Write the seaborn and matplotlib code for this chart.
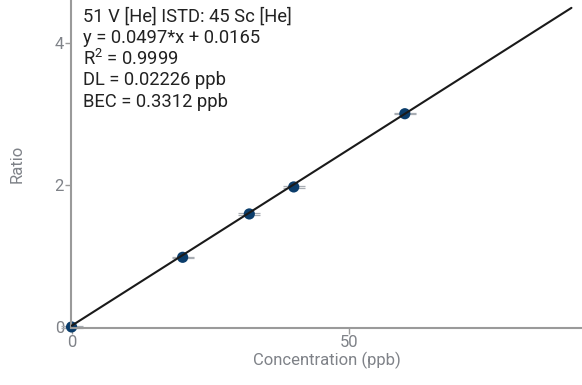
import matplotlib
matplotlib.use("Agg")
import matplotlib.pyplot as plt
import seaborn as sns
import numpy as np
import pandas as pd

# Data
conc = [0, 20, 32, 40, 60]
ratio = [0.0, 0.98, 1.59, 1.97, 3.0]
slope = 0.0497
intercept = 0.0165
fit_x = [0, 90]
x_ticks = [0, 50]
y_ticks = [0, 2, 4]
info_lines = [
    "51 V [He] ISTD: 45 Sc [He]",
    "y = 0.0497*x + 0.0165",
    "R$^{2}$ = 0.9999",
    "DL = 0.02226 ppb",
    "BEC = 0.3312 ppb",
]

sns.set_style("white")
plt.rcParams['font.family'] = ['Roboto', 'DejaVu Sans']
plt.rcParams['mathtext.fontset'] = 'custom'
plt.rcParams['mathtext.rm'] = 'Roboto'
plt.rcParams['mathtext.it'] = 'Roboto'
plt.rcParams['mathtext.default'] = 'regular'

fig = plt.figure(figsize=(5.82, 3.85), dpi=100)
ax = fig.add_axes([0.122, 0.148, 0.878, 0.852])

pts = pd.DataFrame({"Concentration": conc, "Ratio": ratio})
fit = pd.DataFrame({"Concentration": fit_x,
                    "Ratio": [slope * v + intercept for v in fit_x]})

# grey horizontal bars through points
for off in (0.008, -0.008):
    ax.plot(pts["Concentration"], pts["Ratio"] + off, ls="none", marker="_",
            markersize=16, markeredgewidth=0.9, color="#a8adb3", zorder=1,
            clip_on=False)
sns.lineplot(data=fit, x="Concentration", y="Ratio", color="#1a1a1a",
             linewidth=1.5, ax=ax, zorder=3)
sns.scatterplot(data=pts, x="Concentration", y="Ratio", color="#0b3d6b",
                s=65, edgecolor="none", ax=ax, zorder=2, clip_on=False)

ax.set_xlim(-0.1, 91.9)
ax.set_ylim(-0.015, 4.6)
ax.set_xticks(x_ticks)
ax.set_yticks(y_ticks)

for side in ["top", "right"]:
    ax.spines[side].set_visible(False)
for side in ["left", "bottom"]:
    ax.spines[side].set_color("#9a9a9a")
    ax.spines[side].set_linewidth(1.5)

ax.tick_params(axis="both", colors="#9a9a9a", labelcolor="#7f8288",
               labelsize=12, length=4, width=1, pad=1, direction="out")
ax.tick_params(axis="both", which="both", left=True, bottom=True)
ax.set_xlabel("Concentration (ppb)", color="#7f8288", fontsize=12, labelpad=1)
ax.set_ylabel("Ratio", color="#7f8288", fontsize=12, labelpad=22)

ys = [17, 38, 59, 80, 102]
for line, yp in zip(info_lines, ys):
    fig.text(83 / 582, 1 - yp / 385, line,
             ha="left", va="center", fontsize=13.2, color="#222222")

fig.savefig("out.png", dpi=100)
